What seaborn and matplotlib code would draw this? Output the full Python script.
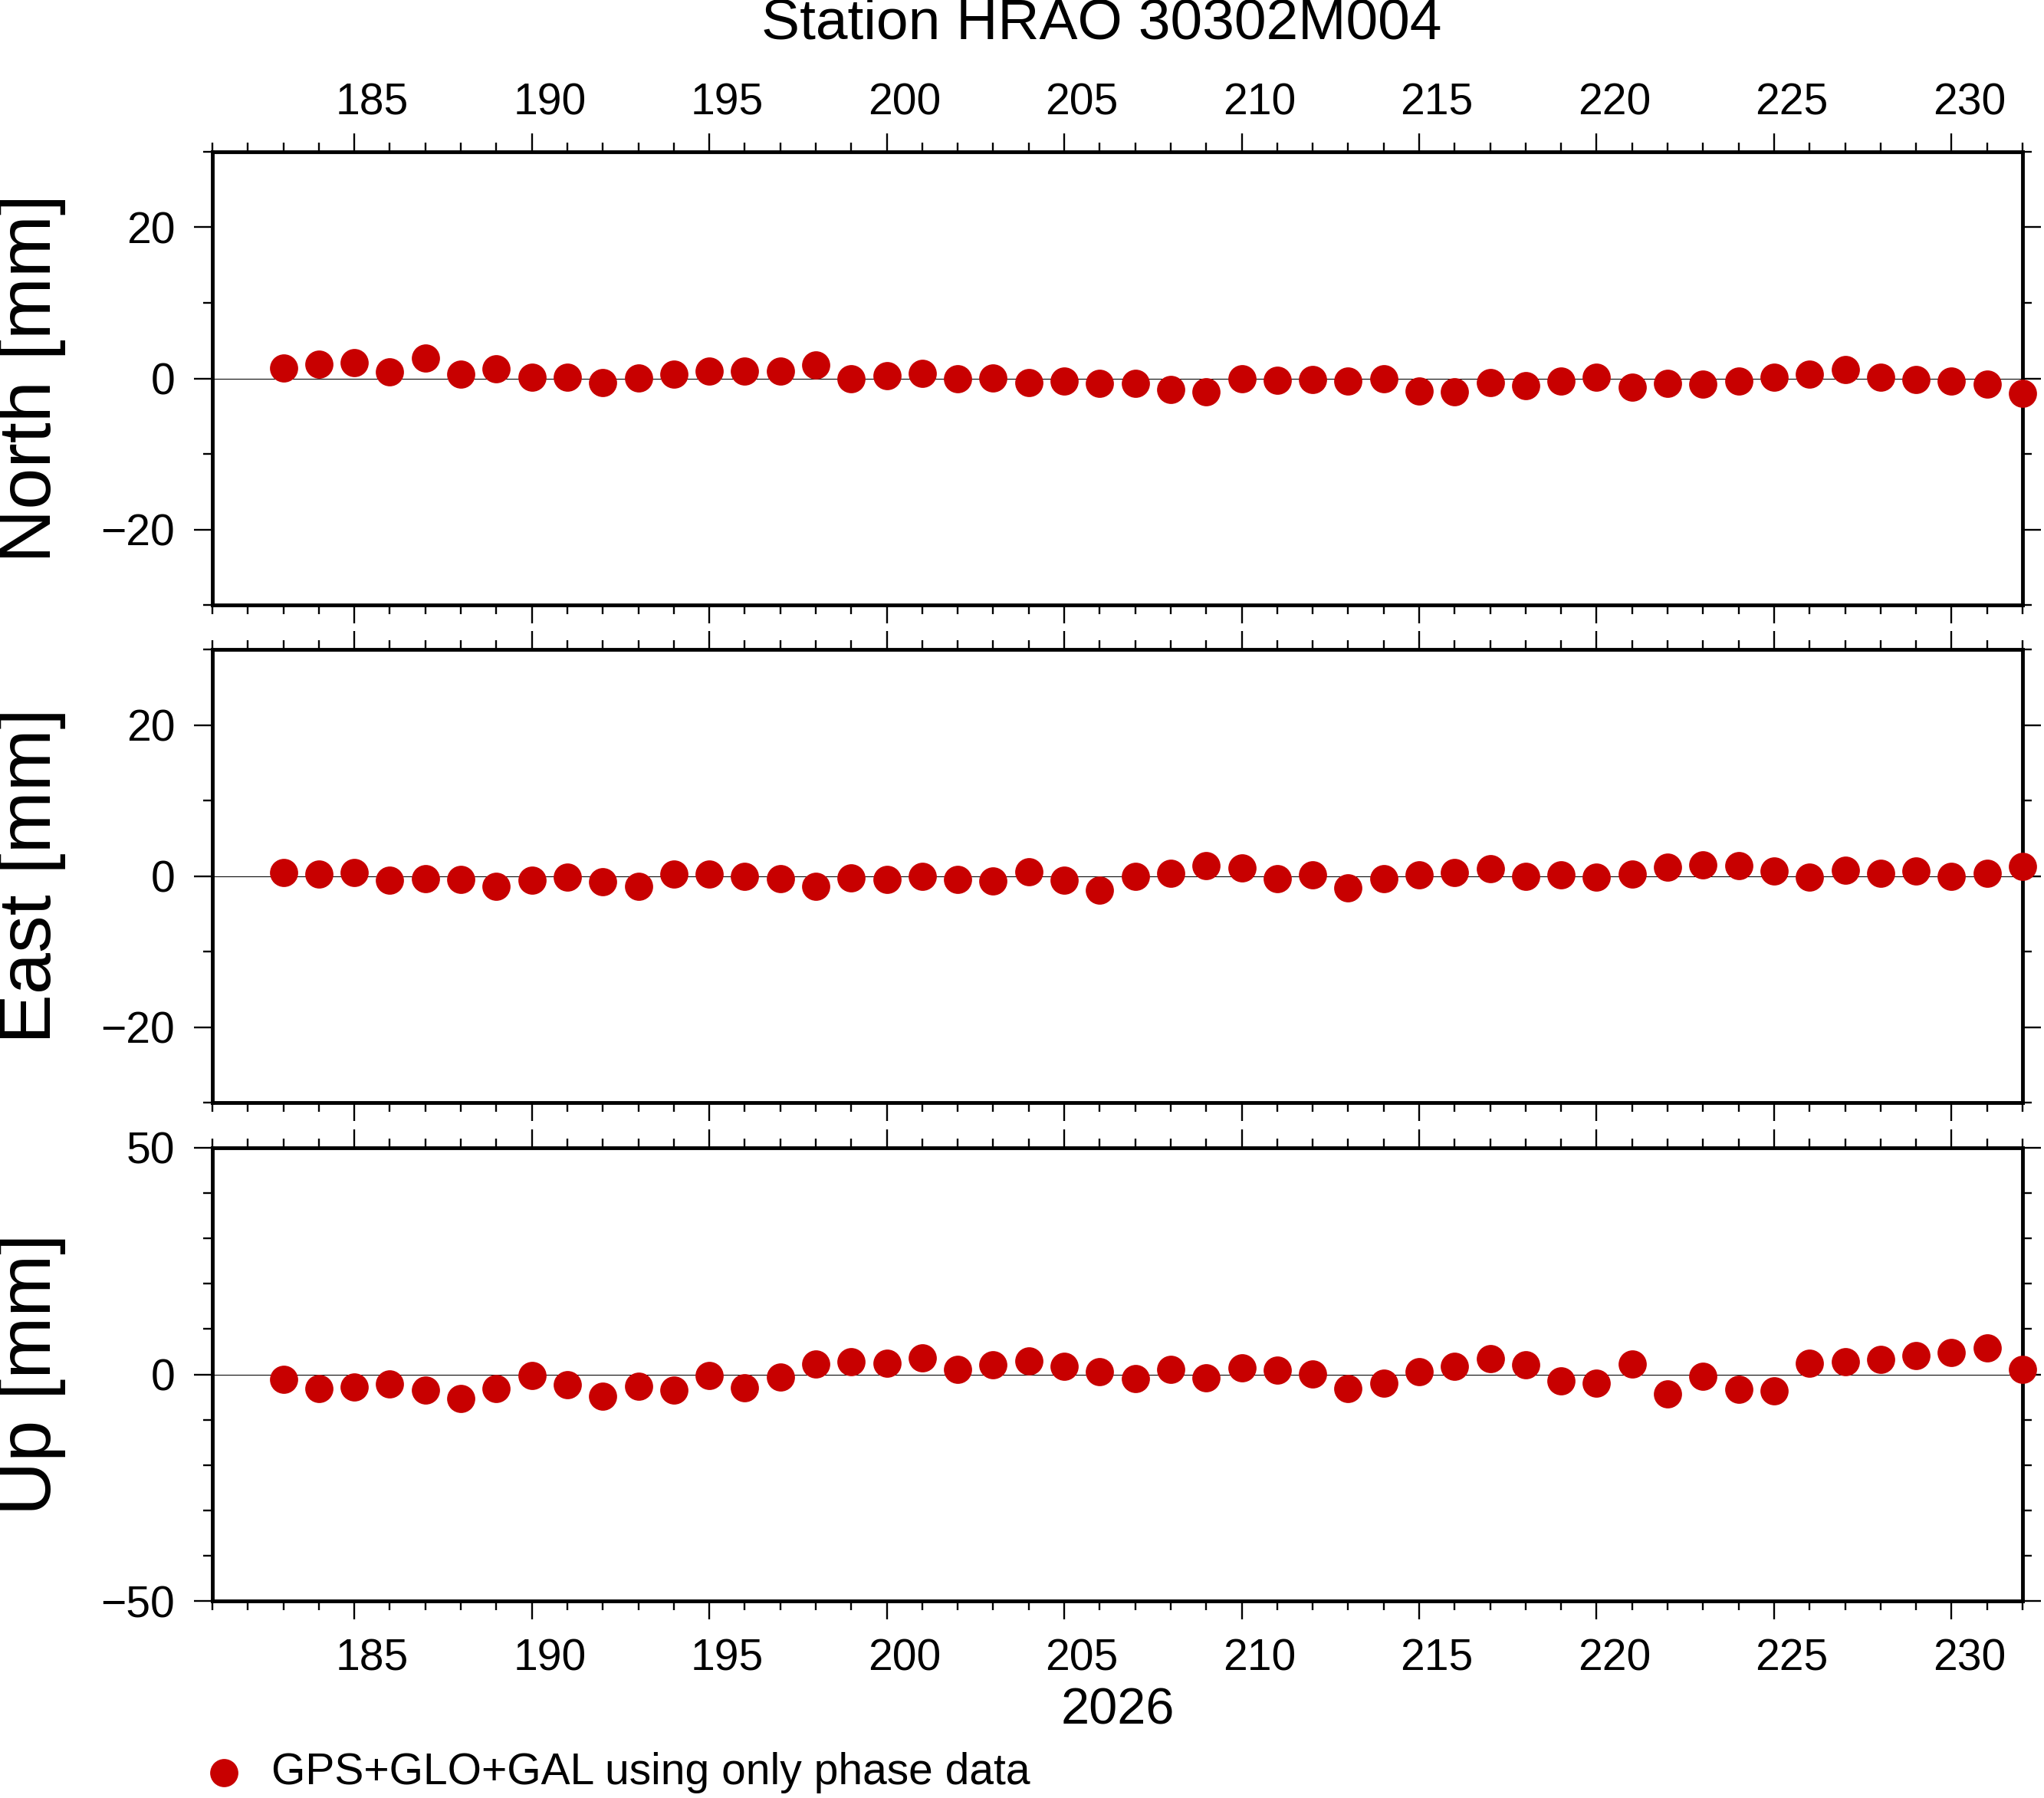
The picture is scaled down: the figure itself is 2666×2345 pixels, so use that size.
import matplotlib
matplotlib.use("Agg")
import matplotlib.pyplot as plt
from matplotlib.ticker import MultipleLocator
from matplotlib.transforms import ScaledTranslation
import seaborn as sns
import pandas as pd

# day of year 2026
days = [183, 184, 185, 186, 187, 188, 189, 190, 191, 192,
        193, 194, 195, 196, 197, 198, 199, 200, 201, 202,
        203, 204, 205, 206, 207, 208, 209, 210, 211, 212,
        213, 214, 215, 216, 217, 218, 219, 220, 221, 222,
        223, 224, 225, 226, 227, 228, 229, 230, 231, 232]

north = [1.4, 1.9, 2.1, 0.9, 2.7, 0.6, 1.3, 0.2, 0.2, -0.6,
         0.1, 0.6, 1.0, 1.0, 1.0, 1.8, 0.0, 0.4, 0.7, 0.0,
         0.1, -0.6, -0.4, -0.7, -0.7, -1.5, -1.8, -0.1, -0.3, -0.2,
         -0.4, 0.0, -1.7, -1.8, -0.6, -1.0, -0.4, 0.2, -1.2, -0.7,
         -0.8, -0.4, 0.2, 0.6, 1.2, 0.2, -0.2, -0.4, -0.8, -2.0]

east = [0.5, 0.3, 0.5, -0.6, -0.4, -0.5, -1.4, -0.6, -0.2, -0.8,
        -1.4, 0.3, 0.3, -0.1, -0.4, -1.4, -0.3, -0.5, -0.1, -0.5,
        -0.7, 0.6, -0.6, -1.9, 0.0, 0.4, 1.4, 1.1, -0.4, 0.2,
        -1.6, -0.4, 0.2, 0.5, 1.0, -0.1, 0.2, -0.2, 0.3, 1.2,
        1.5, 1.4, 0.7, -0.2, 0.8, 0.4, 0.7, 0.0, 0.4, 1.3]

up = [-1.1, -3.2, -2.8, -2.1, -3.4, -5.3, -3.1, -0.2, -2.3, -4.8,
      -2.6, -3.4, -0.2, -2.9, -0.6, 2.3, 2.8, 2.5, 3.7, 1.1,
      2.1, 3.0, 1.8, 0.6, -0.9, 1.1, -0.7, 1.5, 1.0, 0.1,
      -3.1, -1.9, 0.6, 1.8, 3.5, 2.1, -1.4, -1.9, 2.3, -4.3,
      -0.4, -3.3, -3.6, 2.5, 2.8, 3.3, 4.2, 4.9, 5.9, 1.1]

components = ["North", "East", "Up"]
y_limits = [30, 30, 50]
y_major = [20, 20, 50]
day_labels = [185, 190, 195, 200, 205, 210, 215, 220, 225, 230]
series_label = "GPS+GLO+GAL using only phase data"
title = "Station HRAO 30302M004"
year = "2026"

df = pd.DataFrame({"day": days, "North": north, "East": east, "Up": up})

sns.set_theme(style="ticks")
plt.rcParams["font.family"] = ["Liberation Sans", "DejaVu Sans"]
plt.rcParams["text.color"] = "black"
plt.rcParams["axes.labelcolor"] = "black"
plt.rcParams["xtick.color"] = "black"
plt.rcParams["ytick.color"] = "black"

W, H = 2666, 2345
fig = plt.figure(figsize=(W / 100, H / 100), dpi=100)

left = 277 / W
width = (2638 - 277) / W
tops = [198, 847, 1497]
ph = 591
x0, x1 = 181, 232

# GMT puts the day annotation in the middle of the day interval
half_day = 0.5 * width * W / (x1 - x0) / 100
shift_bottom = ScaledTranslation(half_day, 0, fig.dpi_scale_trans)
shift_top = ScaledTranslation(half_day, -0.12, fig.dpi_scale_trans)

red = "#c80000"
axes = []
for i, comp in enumerate(components):
    ax = fig.add_axes([left, 1 - (tops[i] + ph) / H, width, ph / H])
    ax.axhline(0, color="black", lw=0.75, zorder=1)
    sns.scatterplot(data=df, x="day", y=comp, ax=ax, color=red, s=700,
                    linewidth=0, zorder=5, clip_on=False,
                    label=series_label if comp == "Up" else None, legend=False)
    lim = y_limits[i]
    ax.set_ylim(-lim, lim)
    ax.set_xlim(x0, x1)
    ax.set_xticks(day_labels)
    ax.xaxis.set_minor_locator(MultipleLocator(1))
    ax.yaxis.set_major_locator(MultipleLocator(y_major[i]))
    ax.yaxis.set_minor_locator(MultipleLocator(10))
    ax.tick_params(which="both", direction="out", top=True, right=True,
                   labeltop=(i == 0), labelbottom=(i == 2),
                   labelsize=41, width=1.7, color="black")
    ax.tick_params(which="major", length=17, pad=18)
    ax.tick_params(which="minor", length=8.5)
    for sp in ax.spines.values():
        sp.set_linewidth(3.5)
        sp.set_color("black")
        sp.set_zorder(4)
    ax.set_ylabel(f"{comp} [mm]", fontsize=70)
    ax.yaxis.label.set_verticalalignment("center")
    ax.yaxis.set_label_coords(-0.1, 0.5)
    ax.set_xlabel("")
    for tick in ax.xaxis.get_major_ticks():
        tick.label1.set_transform(tick.label1.get_transform() + shift_bottom)
        tick.label2.set_transform(tick.label2.get_transform() + shift_top)
    axes.append(ax)

axes[2].set_xlabel(year, fontsize=48, labelpad=7)

fig.text(1437 / W, 1 - 31 / H, title, fontsize=54, ha="center", va="center")

handles, labels = axes[2].get_legend_handles_labels()
fig.legend(handles, labels, loc="center left",
           bbox_to_anchor=(273 / W, 1 - 2312 / H), frameon=False,
           borderpad=0, borderaxespad=0, handlelength=0.67,
           handletextpad=0.75, fontsize=41)

fig.savefig("out.png", dpi=100)
